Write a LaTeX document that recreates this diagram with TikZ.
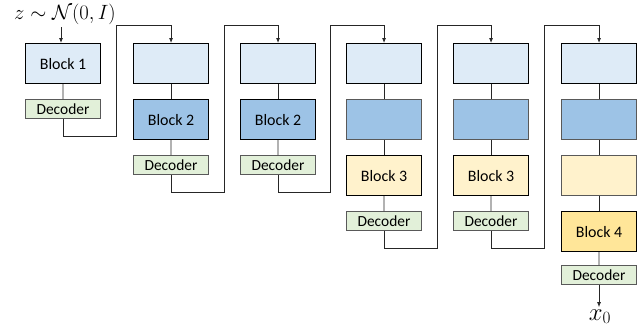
\documentclass[tikz,border=0pt]{standalone}
\usepackage{fontspec}
\setmainfont{Carlito}
\usetikzlibrary{arrows.meta}
\definecolor{lb}{HTML}{DEEBF7}
\definecolor{mb}{HTML}{9DC3E6}
\definecolor{ly}{HTML}{FFF2CC}
\definecolor{yy}{HTML}{FFE699}
\definecolor{gr}{HTML}{E2F0D9}
\definecolor{bd}{HTML}{595959}
\begin{document}
\begin{tikzpicture}[x=1bp,y=-1bp,
  box/.style={draw, anchor=north west, minimum width=75bp, minimum height=40bp, inner sep=0pt, line width=1.1bp, font=\fontsize{16}{18}\selectfont},
  act/.style={box, draw=black},
  ina/.style={box, draw=bd},
  dec/.style={draw=bd, anchor=north west, minimum width=75bp, minimum height=19bp, inner sep=0pt, line width=1bp, fill=gr, font=\fontsize{15.5}{17}\selectfont},
  link/.style={draw=black!85, line width=0.8bp},
  flow/.style={link, -{Latex[length=5bp,width=4bp]}}
]
\useasboundingbox (0,0) rectangle (644,327);
% column 1
\node[act, fill=lb] (c1a) at (25,43) {Block 1};
\node[dec] (c1d) at (25,99) {Decoder};
% column 2
\node[act, fill=lb] (c2a) at (133,43) {};
\node[act, fill=mb] (c2b) at (133,99) {Block 2};
\node[dec] (c2d) at (133,155) {Decoder};
% column 3
\node[act, fill=lb] (c3a) at (240,43) {};
\node[act, fill=mb] (c3b) at (240,99) {Block 2};
\node[dec] (c3d) at (240,155) {Decoder};
% column 4
\node[act, fill=lb] (c4a) at (346,43) {};
\node[ina, fill=mb] (c4b) at (346,99) {};
\node[act, fill=ly] (c4c) at (346,155) {Block 3};
\node[dec] (c4d) at (346,211) {Decoder};
% column 5
\node[act, fill=lb] (c5a) at (453,43) {};
\node[ina, fill=mb] (c5b) at (453,99) {};
\node[act, fill=ly] (c5c) at (453,155) {Block 3};
\node[dec] (c5d) at (453,211) {Decoder};
% column 6
\node[act, fill=lb] (c6a) at (561,43) {};
\node[ina, fill=mb] (c6b) at (561,99) {};
\node[ina, fill=ly] (c6c) at (561,155) {};
\node[act, fill=yy] (c6e) at (561,211) {Block 4};
\node[dec] (c6d) at (561,265) {Decoder};
% texts
\node[font=\fontsize{21}{23}\selectfont, inner sep=0pt, anchor=south] (z) at (65,24.5) {$z\sim\mathcal{N}(0,I)$};
\node[font=\fontsize{26}{28}\selectfont, inner sep=2bp, anchor=base] (x0) at (600,320) {$x_0$};
% vertical links inside columns
\draw[link] (c1a) -- (c1d);
\draw[link] (c2a) -- (c2b); \draw[link] (c2b) -- (c2d);
\draw[link] (c3a) -- (c3b); \draw[link] (c3b) -- (c3d);
\draw[link] (c4a) -- (c4b); \draw[link] (c4b) -- (c4c); \draw[link] (c4c) -- (c4d);
\draw[link] (c5a) -- (c5b); \draw[link] (c5b) -- (c5c); \draw[link] (c5c) -- (c5d);
\draw[link] (c6a) -- (c6b); \draw[link] (c6b) -- (c6c); \draw[link] (c6c) -- (c6e); \draw[link] (c6e) -- (c6d);
% input and output
\coordinate (zin) at (61,27);
\draw[flow] (zin) -- (zin |- c1a.north);
\draw[flow] (c6d.south) -- (c6d.south |- x0.north);
% turn points
\coordinate (t1) at (116,136);
\coordinate (t2) at (224,192);
\coordinate (t3) at (330,192);
\coordinate (t4) at (437,248);
\coordinate (t5) at (544,248);
\draw[flow] (c1d.south) |- (t1) -- (t1 |- 0,25) -| (c2a.north);
\draw[flow] (c2d.south) |- (t2) -- (t2 |- 0,25) -| (c3a.north);
\draw[flow] (c3d.south) |- (t3) -- (t3 |- 0,25) -| (c4a.north);
\draw[flow] (c4d.south) |- (t4) -- (t4 |- 0,25) -| (c5a.north);
\draw[flow] (c5d.south) |- (t5) -- (t5 |- 0,25) -| (c6a.north);
\end{tikzpicture}
\end{document}
